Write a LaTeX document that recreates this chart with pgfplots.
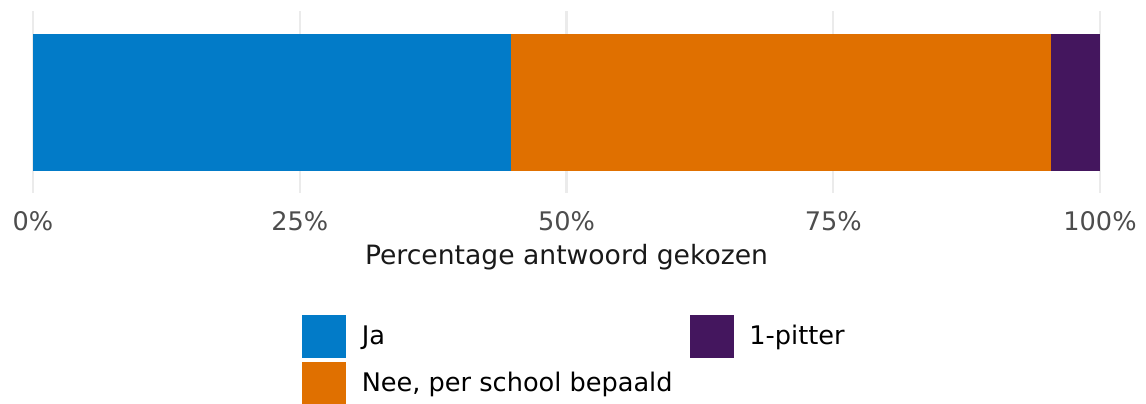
\documentclass[border=0pt]{standalone}
\usepackage{fontspec}
\setmainfont{DejaVu Sans}
\usepackage{pgfplots}
\pgfplotsset{compat=1.18}
\definecolor{cJa}{HTML}{027BC8}
\definecolor{cNee}{HTML}{E07000}
\definecolor{cPit}{HTML}{44165E}
\definecolor{gridc}{HTML}{EBEBEB}
\definecolor{tickc}{HTML}{4D4D4D}
\newcommand{\fs}{\fontsize{12.8}{15}\selectfont}
\newcommand{\fl}{\fontsize{13.3}{16}\selectfont}
\begin{document}
\begin{tikzpicture}[x=1pt,y=1pt]
\useasboundingbox (0,0) rectangle (573,201.5);
\begin{axis}[
  at={(16.5pt,105pt)}, anchor=south west,
  scale only axis, width=533.5pt, height=91pt,
  xbar stacked, bar width=68.5pt,
  xmin=0, xmax=100, ymin=0.4, ymax=1.6,
  ytick=\empty,
  xtick={0,25,50,75,100},
  xticklabels={0\%,25\%,50\%,75\%,100\%},
  axis line style={draw=none},
  major tick length=0pt,
  xmajorgrids, grid style={gridc, line width=1.1pt},
  xticklabel style={font=\fs, text=tickc, yshift=-5.5pt},
  xlabel={Percentage antwoord gekozen},
  xlabel style={font=\fl, text=black!90, yshift=0pt},
  legend columns=2,
  legend cell align=left,
  legend style={at={(0.2521,-0.6703)}, anchor=north west, draw=none, fill=none,
    inner sep=0pt, outer sep=0pt, font=\fs, row sep=2pt,
    /tikz/every odd column/.append style={column sep=6pt},
    /tikz/every even column/.append style={column sep=6.5pt}},
]
\addplot[fill=cJa, draw=none, forget plot] coordinates {(44.8,1)};
\addplot[fill=cNee, draw=none, forget plot] coordinates {(50.6,1)};
\addplot[fill=cPit, draw=none, forget plot] coordinates {(4.6,1)};
\addlegendimage{legend image code/.code={\fill[cJa] (0pt,-10.5pt) rectangle (21.5pt,10.5pt);}}
\addlegendentry{Ja}
\addlegendimage{legend image code/.code={\fill[cPit] (0pt,-10.5pt) rectangle (21.5pt,10.5pt);}}
\addlegendentry{1-pitter}
\addlegendimage{legend image code/.code={\fill[cNee] (0pt,-10.5pt) rectangle (21.5pt,10.5pt);}}
\addlegendentry{Nee, per school bepaald}
\end{axis}
\end{tikzpicture}
\end{document}
